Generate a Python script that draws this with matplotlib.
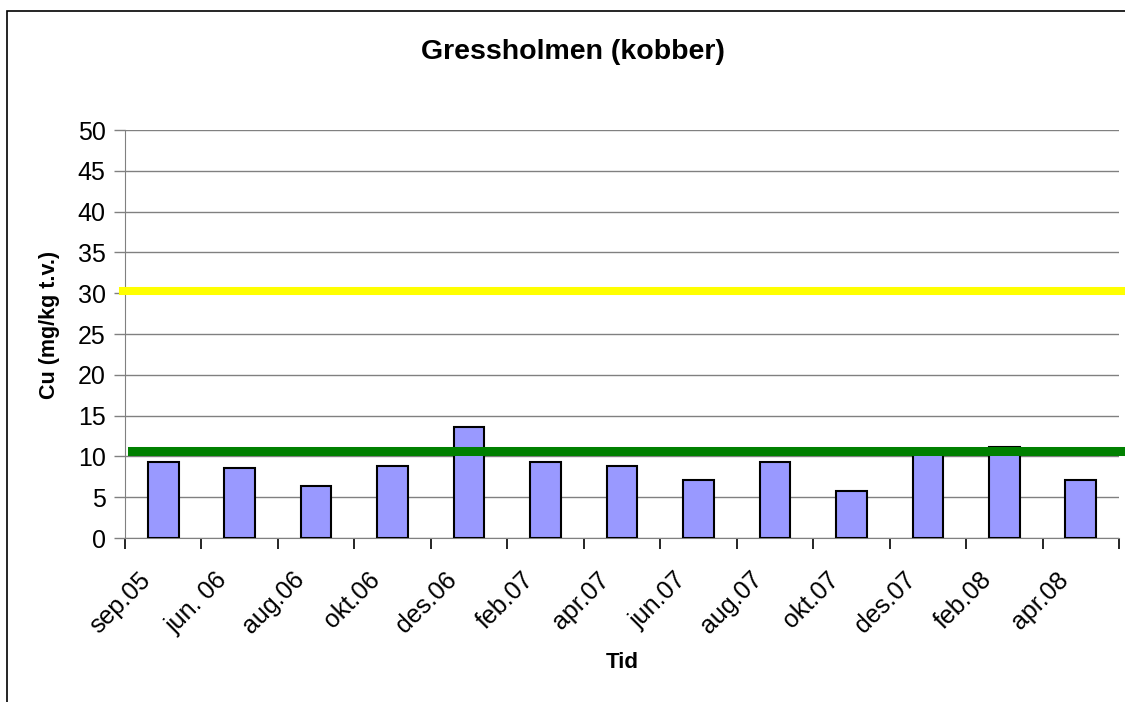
import numpy as np
import matplotlib
matplotlib.use("Agg")
import matplotlib.pyplot as plt
from matplotlib.patches import Rectangle

plt.rcParams['font.family'] = ['Liberation Sans', 'DejaVu Sans']

# Data
dates = ["sep.05", "jun. 06", "aug.06", "okt.06", "des.06", "feb.07", "apr.07",
         "jun.07", "aug.07", "okt.07", "des.07", "feb.08", "apr.08"]
cu = [9.35, 8.6, 6.4, 8.85, 13.6, 9.35, 8.85, 7.15, 9.35, 5.7, 10.4, 11.1, 7.15]
upper_limit = 30.3   # yellow line
lower_limit = 10.65  # green line
yticks = np.arange(0, 55, 5)

fig = plt.figure(figsize=(11.25, 7.02), dpi=100)
ax = fig.add_axes([125/1125, 1-538/702, 994/1125, 408/702])

x = np.arange(len(dates))
ax.bar(x, cu, width=0.4, color='#9999FF', edgecolor='black', linewidth=1.5, zorder=3)

# threshold lines, running out past the plot area
ax.axhline(upper_limit, xmin=-0.002, xmax=1.01, color='#FFFF00', linewidth=5.8, clip_on=False, zorder=4)
ax.axhline(lower_limit, xmin=0.007, xmax=1.01, color='#008000', linewidth=6.5, clip_on=False, zorder=4)

ax.set_xlim(-0.5, len(dates)-0.5)
ax.set_ylim(0, 50)
ax.set_yticks(yticks)
ax.tick_params(axis='y', labelsize=18, length=8, width=1, color='#808080', pad=6)
ax.yaxis.grid(True, color='#808080', linewidth=1)
ax.set_axisbelow(True)

# category boundary ticks on x
ax.set_xticks(np.arange(len(dates)+1) - 0.5)
ax.set_xticklabels([])
ax.tick_params(axis='x', length=8, width=1.2, color='black')
for i, lab in enumerate(dates):
    ax.annotate(lab, xy=(i, 0), xycoords=('data', 'axes fraction'),
                xytext=(-16, -38), textcoords='offset pixels',
                rotation=45, ha='right', va='center', rotation_mode='anchor',
                fontsize=18)

for s in ['top', 'right']:
    ax.spines[s].set_visible(False)
ax.spines['left'].set_color('#808080')
ax.spines['bottom'].set_color('#808080')

fig.text(573/1125, 1-52/702, "Gressholmen (kobber)", ha='center', va='center',
         fontsize=20.5, fontweight='bold')
fig.text(622/1125, 1-662/702, "Tid", ha='center', va='center',
         fontsize=16, fontweight='bold')
fig.text(50/1125, 1-325/702, "Cu (mg/kg t.v.)", ha='center', va='center',
         rotation=90, fontsize=15.5, fontweight='bold')

# chart frame
fig.patches.append(Rectangle((7/1125, -0.1), 1.2, 1-11/702+0.1, transform=fig.transFigure,
                             fill=False, edgecolor='black', linewidth=1.2))

fig.savefig("out.png", dpi=100)
